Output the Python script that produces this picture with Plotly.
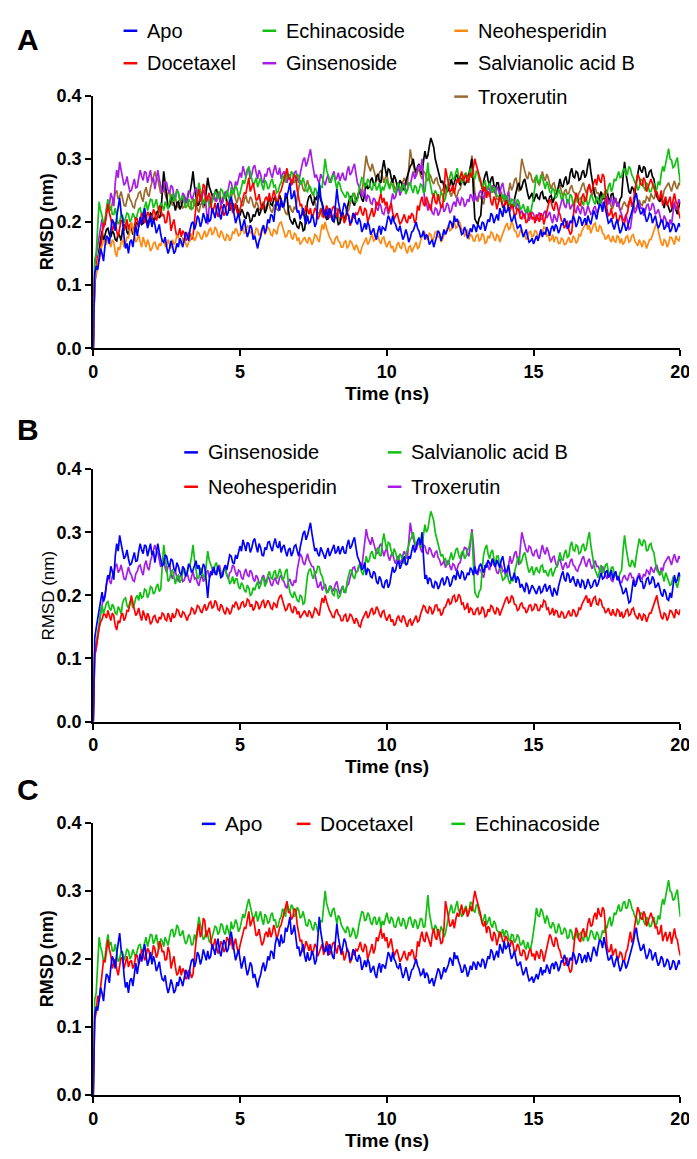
import plotly.graph_objects as go

# RMSD, in pm (1000 pm = 1 nm).
# *_pm hold the frames at 0.0, 0.1, ... 20.0 ns;
# *_mid_pm hold the frames in between (0.05, 0.15, ... 19.95 ns).
T_STEP_NS = 0.05

apo_pm = [
    0, 130, 140, 150, 162, 175, 188, 198, 208, 238,
    205, 158, 150, 172, 182, 178, 208, 212, 205, 198,
    192, 196, 188, 180, 168, 160, 158, 162, 154, 160,
    168, 172, 178, 188, 200, 196, 205, 200, 206, 212,
    204, 215, 220, 212, 218, 222, 215, 240, 212, 205,
    200, 195, 188, 184, 190, 178, 158, 176, 195, 190,
    198, 210, 222, 228, 236, 225, 240, 262, 240, 228,
    218, 212, 205, 210, 200, 206, 198, 262, 225, 210,
    205, 215, 200, 252, 220, 218, 225, 210, 200, 212,
    196, 200, 190, 188, 194, 185, 178, 186, 180, 190,
    198, 205, 210, 196, 186, 182, 178, 180, 175, 186,
    200, 185, 178, 172, 176, 168, 160, 175, 182, 178,
    180, 192, 198, 210, 205, 190, 182, 186, 180, 184,
    192, 196, 188, 198, 194, 200, 210, 205, 202, 215,
    226, 218, 210, 205, 200, 192, 185, 182, 176, 170,
    165, 178, 182, 176, 180, 186, 190, 185, 192, 188,
    195, 200, 192, 198, 204, 198, 206, 200, 195, 202,
    208, 212, 218, 226, 232, 210, 200, 195, 198, 192,
    188, 196, 192, 205, 225, 246, 220, 215, 210, 205,
    212, 204, 198, 195, 200, 192, 196, 188, 195, 190,
    192,
]
apo_mid_pm = [
    118, 124, 158, 138, 178, 165, 204, 186, 226, 214,
    176, 166, 168, 160, 194, 198, 196, 222, 190, 210,
    204, 182, 196, 170, 176, 150, 170, 150, 166, 174,
    160, 184, 170, 198, 188, 210, 192, 214, 198, 200,
    222, 206, 230, 204, 228, 210, 232, 222, 198, 214,
    186, 204, 176, 195, 172, 166, 170, 188, 182, 204,
    212, 200, 232, 218, 224, 246, 250, 236, 250, 215,
    204, 222, 196, 198, 212, 192, 230, 240, 214, 220,
    222, 204, 226, 232, 208, 230, 212, 198, 214, 200,
    206, 184, 198, 200, 180, 190, 172, 194, 192, 186,
    210, 196, 200, 188, 194, 172, 188, 168, 184, 194,
    190, 176, 186, 180, 164, 172, 168, 186, 170, 188,
    186, 202, 190, 200, 196, 180, 192, 174, 190, 196,
    184, 192, 200, 186, 204, 214, 198, 212, 222, 208,
    214, 224, 200, 212, 190, 196, 176, 188, 168, 174,
    172, 170, 188, 184, 192, 178, 194, 196, 182, 198,
    206, 190, 202, 210, 192, 208, 194, 206, 210, 196,
    218, 204, 228, 216, 222, 198, 206, 188, 204, 182,
    198, 186, 200, 214, 238, 230, 212, 222, 200, 214,
    198, 210, 190, 204, 188, 200, 184, 198, 184, 198,
]

docetaxel_pm = [
    0, 122, 138, 175, 195, 228, 205, 192, 185, 190,
    200, 195, 188, 198, 192, 205, 200, 210, 204, 212,
    205, 215, 208, 222, 212, 200, 210, 196, 188, 180,
    176, 182, 174, 180, 178, 225, 252, 240, 256, 238,
    232, 220, 218, 214, 222, 215, 228, 232, 222, 216,
    220, 234, 245, 270, 255, 248, 236, 230, 225, 240,
    246, 238, 242, 236, 250, 265, 285, 270, 262, 272,
    236, 228, 215, 220, 222, 212, 218, 210, 222, 214,
    220, 212, 225, 208, 218, 212, 204, 210, 200, 205,
    212, 225, 210, 218, 206, 222, 215, 226, 245, 238,
    232, 222, 215, 210, 205, 200, 212, 198, 205, 210,
    204, 218, 240, 225, 232, 218, 245, 228, 235, 225,
    285, 262, 250, 245, 268, 272, 265, 275, 268, 270,
    300, 282, 265, 248, 238, 245, 226, 235, 228, 236,
    225, 230, 218, 222, 212, 218, 205, 210, 202, 215,
    208, 212, 200, 210, 206, 225, 232, 218, 228, 212,
    200, 195, 188, 184, 230, 240, 225, 245, 236, 260,
    250, 268, 275, 262, 272, 220, 212, 205, 215, 202,
    208, 198, 215, 240, 232, 262, 270, 258, 265, 255,
    268, 255, 248, 238, 226, 240, 232, 222, 245, 228,
    205,
]
docetaxel_mid_pm = [
    110, 146, 160, 198, 210, 214, 186, 200, 176, 202,
    186, 204, 196, 186, 206, 192, 214, 198, 216, 200,
    220, 202, 226, 210, 198, 218, 186, 204, 176, 190,
    186, 170, 184, 172, 206, 240, 232, 260, 232, 246,
    214, 230, 208, 226, 210, 232, 220, 214, 230, 208,
    228, 246, 256, 248, 262, 234, 244, 220, 236, 232,
    232, 250, 230, 246, 258, 276, 268, 258, 274, 250,
    226, 210, 226, 212, 206, 222, 204, 216, 206, 226,
    206, 222, 214, 220, 206, 198, 216, 194, 212, 214,
    218, 214, 222, 200, 214, 208, 232, 236, 230, 226,
    216, 230, 204, 214, 196, 208, 202, 210, 214, 198,
    226, 232, 228, 240, 222, 236, 232, 244, 222, 246,
    270, 248, 258, 258, 262, 280, 270, 262, 278, 286,
    290, 270, 252, 256, 248, 232, 240, 220, 240, 226,
    234, 220, 228, 210, 222, 206, 214, 198, 212, 204,
    198, 204, 214, 196, 218, 236, 222, 232, 216, 202,
    190, 202, 180, 210, 246, 228, 240, 232, 252, 248,
    262, 258, 266, 276, 248, 210, 222, 212, 198, 210,
    196, 210, 228, 224, 250, 276, 260, 270, 248, 262,
    260, 246, 236, 250, 234, 226, 240, 236, 232, 214,
]

echinacoside_pm = [
    0, 150, 232, 210, 202, 236, 225, 212, 205, 200,
    210, 206, 212, 204, 208, 212, 222, 215, 232, 226,
    235, 228, 222, 230, 218, 226, 232, 244, 238, 246,
    236, 230, 226, 232, 222, 228, 262, 240, 232, 236,
    224, 238, 246, 240, 250, 236, 242, 255, 248, 252,
    245, 266, 272, 288, 268, 262, 255, 270, 250, 262,
    255, 268, 258, 248, 262, 270, 282, 268, 276, 265,
    272, 262, 258, 248, 255, 242, 250, 246, 255, 300,
    272, 262, 275, 252, 260, 246, 238, 244, 236, 240,
    235, 262, 268, 258, 264, 250, 262, 255, 245, 250,
    268, 252, 258, 246, 262, 248, 256, 250, 262, 246,
    255, 250, 258, 248, 294, 252, 240, 245, 236, 242,
    238, 262, 280, 268, 285, 272, 265, 278, 270, 282,
    268, 278, 262, 258, 250, 262, 246, 252, 240, 236,
    232, 240, 226, 235, 228, 232, 222, 218, 225, 215,
    238, 275, 262, 270, 252, 258, 245, 250, 240, 246,
    238, 242, 232, 240, 235, 230, 238, 226, 236, 232,
    240, 228, 236, 232, 238, 245, 262, 255, 265, 280,
    272, 285, 276, 284, 270, 262, 255, 266, 250, 258,
    248, 262, 252, 258, 288, 292, 316, 298, 288, 302,
    262,
]
echinacoside_mid_pm = [
    140, 196, 218, 196, 222, 220, 212, 222, 196, 212,
    198, 214, 200, 214, 202, 220, 210, 226, 218, 236,
    222, 236, 214, 226, 232, 220, 242, 232, 250, 234,
    242, 222, 236, 220, 236, 246, 250, 228, 242, 226,
    232, 248, 236, 252, 240, 250, 234, 244, 258, 240,
    256, 260, 280, 276, 258, 270, 262, 258, 266, 252,
    264, 256, 246, 258, 274, 262, 274, 280, 262, 276,
    260, 270, 250, 258, 246, 254, 240, 256, 278, 282,
    266, 272, 260, 264, 250, 240, 248, 232, 246, 230,
    250, 270, 256, 268, 254, 260, 250, 262, 256, 260,
    258, 262, 248, 256, 252, 260, 244, 260, 252, 258,
    244, 260, 246, 270, 268, 244, 250, 234, 248, 232,
    252, 272, 268, 278, 270, 262, 274, 266, 284, 272,
    280, 266, 252, 266, 256, 250, 256, 242, 232, 244,
    242, 230, 236, 224, 236, 220, 228, 214, 216, 226,
    256, 264, 274, 258, 264, 248, 254, 238, 252, 236,
    246, 230, 244, 228, 240, 236, 230, 240, 226, 242,
    232, 240, 226, 242, 250, 256, 248, 268, 272, 270,
    282, 274, 288, 274, 262, 250, 268, 256, 262, 248,
    256, 248, 264, 276, 280, 306, 300, 286, 296, 280,
]

neohesperidin_pm = [
    0, 118, 148, 162, 170, 176, 160, 168, 145, 156,
    172, 165, 175, 200, 178, 172, 168, 176, 160, 166,
    158, 168, 156, 162, 170, 160, 165, 172, 168, 176,
    165, 172, 160, 170, 178, 175, 182, 172, 186, 180,
    190, 182, 188, 176, 182, 170, 178, 174, 182, 186,
    180, 190, 184, 192, 186, 180, 188, 182, 192, 185,
    188, 178, 186, 192, 200, 184, 178, 186, 172, 180,
    175, 168, 176, 166, 172, 170, 178, 168, 196, 200,
    182, 172, 165, 178, 168, 160, 170, 162, 168, 155,
    160, 150, 166, 175, 168, 180, 172, 178, 165, 176,
    160, 170, 162, 155, 168, 158, 165, 150, 162, 158,
    168, 160, 176, 182, 172, 180, 175, 185, 178, 172,
    182, 195, 188, 200, 192, 198, 188, 180, 172, 178,
    170, 180, 172, 178, 168, 174, 182, 170, 178, 175,
    186, 198, 190, 196, 185, 178, 188, 180, 176, 185,
    178, 185, 176, 182, 190, 180, 172, 168, 175, 166,
    172, 165, 176, 168, 174, 170, 178, 190, 200, 195,
    188, 198, 185, 192, 180, 175, 172, 178, 168, 176,
    174, 168, 178, 170, 180, 166, 172, 160, 168, 165,
    172, 185, 200, 176, 162, 170, 166, 175, 164, 172,
    178,
]
neohesperidin_mid_pm = [
    106, 136, 158, 170, 164, 168, 172, 152, 160, 168,
    160, 176, 186, 188, 168, 180, 160, 166, 172, 154,
    166, 160, 166, 172, 162, 172, 158, 164, 178, 168,
    174, 164, 168, 180, 170, 184, 176, 180, 176, 188,
    180, 192, 178, 186, 174, 180, 170, 184, 190, 178,
    188, 182, 194, 182, 176, 190, 178, 190, 180, 192,
    180, 188, 180, 198, 190, 176, 186, 176, 182, 170,
    164, 174, 170, 176, 164, 180, 172, 184, 188, 190,
    176, 166, 174, 170, 160, 168, 158, 170, 160, 164,
    152, 160, 172, 164, 176, 170, 182, 170, 174, 166,
    166, 158, 152, 164, 160, 168, 156, 160, 152, 164,
    158, 170, 184, 174, 182, 170, 184, 176, 168, 180,
    190, 186, 198, 190, 202, 186, 178, 188, 180, 170,
    178, 170, 182, 166, 178, 184, 174, 180, 168, 182,
    194, 188, 200, 186, 176, 186, 180, 172, 184, 176,
    186, 176, 184, 192, 178, 170, 180, 176, 166, 174,
    164, 172, 168, 178, 166, 180, 186, 196, 188, 182,
    196, 186, 194, 182, 172, 180, 168, 170, 178, 166,
    164, 176, 168, 178, 170, 162, 166, 170, 158, 172,
    180, 194, 186, 166, 172, 160, 176, 168, 178, 170,
]

ginsenoside_pm = [
    0, 148, 172, 205, 198, 232, 246, 225, 282, 295,
    272, 262, 258, 250, 268, 255, 282, 266, 278, 270,
    264, 252, 282, 258, 250, 262, 245, 255, 238, 246,
    232, 242, 236, 246, 240, 255, 248, 238, 245, 196,
    238, 245, 232, 240, 230, 248, 255, 262, 250, 258,
    278, 288, 270, 282, 275, 290, 268, 276, 262, 272,
    285, 270, 290, 275, 268, 280, 262, 275, 268, 280,
    262, 290, 302, 295, 315, 282, 275, 262, 270, 258,
    275, 268, 280, 270, 265, 278, 266, 288, 278, 292,
    262, 250, 244, 232, 240, 228, 235, 218, 225, 212,
    225, 218, 245, 240, 255, 248, 262, 250, 258, 280,
    275, 290, 300, 226, 218, 225, 212, 220, 215, 228,
    220, 226, 218, 232, 240, 226, 236, 228, 232, 240,
    246, 238, 250, 236, 244, 252, 258, 245, 250, 256,
    248, 240, 232, 228, 220, 225, 218, 205, 215, 208,
    212, 202, 215, 206, 218, 210, 205, 212, 200, 226,
    238, 222, 232, 225, 220, 226, 212, 222, 215, 220,
    214, 225, 218, 236, 228, 240, 232, 225, 238, 230,
    212, 205, 198, 190, 225, 218, 230, 222, 216, 228,
    220, 225, 215, 210, 198, 205, 192, 196, 232, 225,
    230,
]
ginsenoside_mid_pm = [
    132, 164, 192, 190, 218, 226, 238, 262, 270, 282,
    258, 272, 248, 262, 254, 270, 272, 280, 262, 282,
    270, 266, 268, 246, 264, 250, 258, 242, 252, 236,
    246, 230, 250, 236, 248, 242, 232, 250, 222, 224,
    232, 236, 246, 228, 242, 240, 264, 252, 264, 268,
    270, 280, 284, 268, 286, 278, 282, 264, 276, 284,
    276, 282, 278, 286, 276, 270, 272, 262, 278, 270,
    276, 298, 288, 306, 298, 270, 266, 276, 262, 268,
    262, 276, 266, 278, 272, 268, 280, 274, 286, 276,
    256, 240, 252, 242, 230, 238, 222, 230, 214, 222,
    212, 232, 236, 250, 242, 256, 248, 262, 270, 268,
    286, 280, 262, 232, 228, 214, 222, 210, 224, 216,
    230, 214, 228, 224, 232, 238, 224, 236, 244, 232,
    234, 246, 242, 248, 256, 246, 250, 256, 244, 262,
    236, 248, 224, 236, 230, 212, 210, 220, 202, 216,
    206, 210, 204, 214, 206, 216, 198, 204, 214, 232,
    226, 236, 220, 230, 214, 220, 224, 210, 226, 212,
    222, 214, 230, 226, 236, 228, 240, 234, 224, 218,
    202, 212, 188, 208, 214, 228, 222, 210, 226, 218,
    230, 212, 220, 202, 210, 194, 204, 218, 220, 236,
]

salvianolic_pm = [
    0, 125, 152, 185, 178, 190, 176, 182, 170, 178,
    188, 196, 180, 192, 186, 200, 205, 198, 208, 202,
    212, 205, 218, 210, 280, 236, 225, 240, 218, 232,
    225, 242, 236, 248, 280, 238, 228, 240, 226, 270,
    248, 236, 252, 240, 232, 245, 228, 222, 218, 226,
    210, 216, 205, 212, 202, 208, 222, 216, 228, 220,
    238, 226, 240, 232, 236, 228, 242, 205, 196, 200,
    190, 198, 188, 232, 242, 226, 236, 245, 230, 212,
    205, 212, 200, 208, 198, 215, 204, 232, 240, 226,
    238, 245, 232, 262, 255, 270, 258, 276, 262, 298,
    272, 282, 262, 268, 255, 262, 250, 272, 288, 300,
    278, 292, 275, 312, 305, 333, 318, 290, 272, 265,
    258, 250, 268, 262, 275, 258, 270, 262, 276, 300,
    205, 196, 210, 265, 280, 258, 272, 250, 262, 232,
    226, 235, 218, 222, 248, 262, 255, 268, 245, 240,
    232, 245, 236, 248, 240, 230, 242, 236, 245, 268,
    255, 272, 262, 285, 270, 278, 268, 282, 275, 300,
    262, 240, 228, 248, 238, 250, 232, 245, 236, 228,
    240, 295, 260, 245, 252, 262, 290, 278, 285, 272,
    282, 268, 240, 232, 228, 236, 225, 218, 226, 212,
    232,
]
salvianolic_mid_pm = [
    112, 140, 172, 170, 188, 180, 186, 172, 182, 170,
    194, 184, 190, 180, 196, 192, 196, 210, 196, 214,
    202, 214, 206, 248, 262, 222, 238, 228, 230, 220,
    236, 230, 246, 262, 256, 226, 244, 230, 252, 256,
    240, 248, 238, 228, 242, 232, 218, 230, 226, 214,
    220, 208, 216, 200, 212, 216, 210, 226, 214, 232,
    228, 236, 226, 242, 224, 238, 218, 200, 206, 192,
    200, 186, 210, 240, 232, 238, 246, 234, 220, 204,
    214, 202, 210, 196, 208, 206, 222, 240, 230, 236,
    248, 236, 250, 252, 266, 260, 272, 264, 284, 284,
    284, 270, 274, 258, 266, 254, 264, 282, 292, 286,
    288, 280, 296, 300, 320, 326, 300, 282, 262, 256,
    248, 262, 256, 272, 264, 268, 258, 272, 288, 250,
    200, 206, 240, 274, 266, 268, 258, 262, 244, 224,
    232, 224, 228, 236, 256, 250, 264, 254, 236, 246,
    240, 238, 246, 236, 234, 240, 230, 244, 256, 258,
    266, 260, 278, 272, 280, 266, 278, 270, 290, 280,
    250, 232, 240, 236, 248, 238, 244, 234, 226, 236,
    272, 276, 248, 256, 244, 278, 282, 288, 270, 280,
    272, 252, 236, 240, 222, 230, 216, 228, 218, 224,
]

troxerutin_pm = [
    0, 115, 150, 185, 200, 232, 218, 236, 250, 240,
    236, 225, 245, 232, 222, 238, 248, 232, 255, 240,
    262, 280, 268, 245, 258, 236, 248, 226, 238, 222,
    232, 224, 236, 220, 238, 228, 215, 232, 226, 240,
    232, 245, 236, 248, 230, 242, 226, 238, 245, 230,
    238, 225, 242, 230, 236, 222, 228, 218, 232, 220,
    226, 215, 228, 218, 232, 222, 212, 226, 215, 220,
    255, 262, 248, 266, 252, 245, 222, 215, 208, 218,
    205, 215, 210, 222, 202, 215, 208, 218, 236, 245,
    238, 252, 262, 305, 285, 292, 276, 268, 282, 262,
    275, 255, 268, 250, 262, 255, 270, 258, 315, 290,
    272, 285, 268, 278, 265, 272, 260, 270, 256, 250,
    244, 256, 240, 248, 242, 252, 268, 275, 262, 305,
    245, 232, 240, 228, 252, 240, 258, 245, 235, 248,
    240, 232, 262, 256, 270, 248, 300, 280, 268, 276,
    262, 272, 258, 280, 265, 270, 252, 262, 245, 258,
    240, 252, 245, 258, 246, 238, 250, 262, 245, 258,
    242, 255, 246, 238, 240, 226, 232, 222, 236, 225,
    220, 232, 224, 236, 228, 222, 235, 226, 230, 238,
    245, 236, 248, 232, 238, 255, 262, 248, 265, 252,
    258,
]
troxerutin_mid_pm = [
    104, 138, 172, 196, 220, 224, 230, 246, 236, 248,
    226, 238, 236, 224, 234, 246, 238, 248, 244, 254,
    272, 270, 256, 254, 244, 246, 234, 236, 228, 230,
    222, 232, 226, 230, 226, 220, 226, 222, 236, 228,
    240, 234, 246, 236, 240, 232, 236, 248, 236, 240,
    228, 236, 232, 240, 226, 232, 220, 228, 224, 230,
    218, 224, 220, 228, 224, 214, 222, 218, 224, 240,
    266, 252, 260, 256, 246, 232, 212, 222, 214, 208,
    212, 206, 218, 210, 210, 204, 216, 228, 244, 236,
    246, 244, 284, 292, 280, 282, 266, 278, 270, 270,
    262, 264, 256, 260, 250, 264, 262, 286, 300, 280,
    280, 274, 280, 268, 276, 264, 268, 260, 248, 256,
    250, 246, 250, 240, 250, 262, 276, 266, 286, 280,
    236, 242, 232, 242, 246, 250, 248, 236, 244, 238,
    230, 248, 250, 266, 258, 276, 290, 272, 278, 266,
    270, 262, 272, 270, 276, 260, 260, 252, 254, 248,
    248, 244, 254, 248, 240, 246, 258, 252, 254, 248,
    250, 246, 240, 246, 232, 234, 224, 230, 228, 220,
    228, 226, 232, 228, 220, 230, 228, 234, 240, 232,
    240, 244, 238, 244, 250, 258, 254, 258, 256, 262,
]


def merge_frames(frames, mids):
    """Put the in-between frames back in time order."""
    out = []
    for a, m in zip(frames, mids):
        out += [a, m]
    out.append(frames[-1])
    return out


series = {
    "Apo": merge_frames(apo_pm, apo_mid_pm),
    "Docetaxel": merge_frames(docetaxel_pm, docetaxel_mid_pm),
    "Echinacoside": merge_frames(echinacoside_pm, echinacoside_mid_pm),
    "Neohesperidin": merge_frames(neohesperidin_pm, neohesperidin_mid_pm),
    "Ginsenoside": merge_frames(ginsenoside_pm, ginsenoside_mid_pm),
    "Salvianolic acid B": merge_frames(salvianolic_pm, salvianolic_mid_pm),
    "Troxerutin": merge_frames(troxerutin_pm, troxerutin_mid_pm),
}
time_ns = [i * T_STEP_NS for i in range(len(series["Apo"]))]

# panel -> (name, colour) in drawing order (first drawn is at the back)
panel_a = [
    ("Troxerutin", "#9b6a2f"),
    ("Salvianolic acid B", "#000000"),
    ("Ginsenoside", "#a61ee6"),
    ("Echinacoside", "#12c012"),
    ("Docetaxel", "#ff0000"),
    ("Neohesperidin", "#ff8a12"),
    ("Apo", "#0000ff"),
]
panel_b = [
    ("Troxerutin", "#a61ee6"),
    ("Salvianolic acid B", "#12c012"),
    ("Neohesperidin", "#ff0000"),
    ("Ginsenoside", "#0000ff"),
]
panel_c = [
    ("Echinacoside", "#12c012"),
    ("Docetaxel", "#ff0000"),
    ("Apo", "#0000ff"),
]

W, H = 697, 1159
FONT = "Liberation Sans, Arial, sans-serif"


def px(x):
    return x / W


def py(y):
    return 1 - y / H


fig = go.Figure()

for idx, panel in enumerate([panel_a, panel_b, panel_c], start=1):
    sfx = "" if idx == 1 else str(idx)
    for name, color in panel:
        fig.add_trace(go.Scatter(
            x=time_ns,
            y=[v / 1000 for v in series[name]],
            mode="lines",
            line=dict(color=color, width=1.7),
            name=name,
            showlegend=False,
            xaxis="x" + sfx,
            yaxis="y" + sfx,
        ))

axis_common = dict(
    showline=True, linecolor="black", linewidth=2,
    ticks="outside", ticklen=6, tickwidth=2, tickcolor="black",
    showgrid=False, zeroline=False,
    tickfont=dict(family=FONT, size=18, color="black", weight="bold"),
)

# plot-area pixel boxes: (y of 0.4, y of 0.0)
boxes = [(79, 336), (459, 716), (819, 1096)]
x_left, x_right = 82, 682

layout = dict(
    width=W, height=H,
    margin=dict(l=0, r=0, t=0, b=0),
    paper_bgcolor="white", plot_bgcolor="white",
    showlegend=False,
)
for idx, (top, bottom) in enumerate(boxes, start=1):
    sfx = "" if idx == 1 else str(idx)
    layout["xaxis" + sfx] = dict(
        axis_common, domain=[px(x_left), px(x_right)], range=[0, 20],
        tickvals=[0, 5, 10, 15, 20], anchor="y" + sfx,
    )
    layout["yaxis" + sfx] = dict(
        axis_common, domain=[py(bottom), py(top)], range=[0, 0.4],
        tickvals=[0, 0.1, 0.2, 0.3, 0.4], tickformat=".1f", anchor="x" + sfx,
    )
fig.update_layout(**layout)

annotations = []
shapes = []


def note(x, y, text, size, **kw):
    annotations.append(dict(
        x=px(x), y=py(y), xref="paper", yref="paper", text=text,
        showarrow=False, xanchor=kw.pop("xanchor", "center"),
        yanchor="middle", font=dict(family=FONT, size=size, color="black"), **kw,
    ))


# panel letters
for letter, y in [("A", 22), ("B", 419), ("C", 785)]:
    note(15, y, f"<b>{letter}</b>", 30)

# axis titles
for idx, (top, bottom) in enumerate(boxes, start=1):
    note((x_left + x_right) / 2, bottom + 46, "<b>Time (ns)</b>", 19)
    if idx == 2:
        note(36, (top + bottom) / 2, "RMSD (nm)", 17, textangle=-90)
    else:
        note(35, (top + bottom) / 2, "<b>RMSD (nm)</b>", 18, textangle=-90)

# legend entries: (name, colour, dash x, row y, font size)
legend_items = [
    ("Apo", "#0000ff", 113, 13, 20),
    ("Docetaxel", "#ff0000", 113, 46, 20),
    ("Echinacoside", "#12c012", 255, 13, 20),
    ("Ginsenoside", "#a61ee6", 255, 46, 20),
    ("Neohesperidin", "#ff8a12", 451, 13, 20),
    ("Salvianolic acid B", "#000000", 451, 46, 20),
    ("Troxerutin", "#9b6a2f", 451, 80, 20),
    ("Ginsenoside", "#0000ff", 175, 442, 20),
    ("Neohesperidin", "#ff0000", 175, 477, 20),
    ("Salvianolic acid B", "#12c012", 383, 442, 20),
    ("Troxerutin", "#a61ee6", 383, 477, 20),
    ("Apo", "#0000ff", 193, 820, 21),
    ("Docetaxel", "#ff0000", 290, 820, 21),
    ("Echinacoside", "#12c012", 448, 820, 21),
]
for name, color, x0, y0, size in legend_items:
    shapes.append(dict(
        type="line", xref="paper", yref="paper",
        x0=px(x0), x1=px(x0 + 14), y0=py(y0), y1=py(y0),
        line=dict(color=color, width=2.5),
    ))
    note(x0 + 22, y0, name, size, xanchor="left")

fig.update_layout(annotations=annotations, shapes=shapes)
fig.write_html("out.html")
